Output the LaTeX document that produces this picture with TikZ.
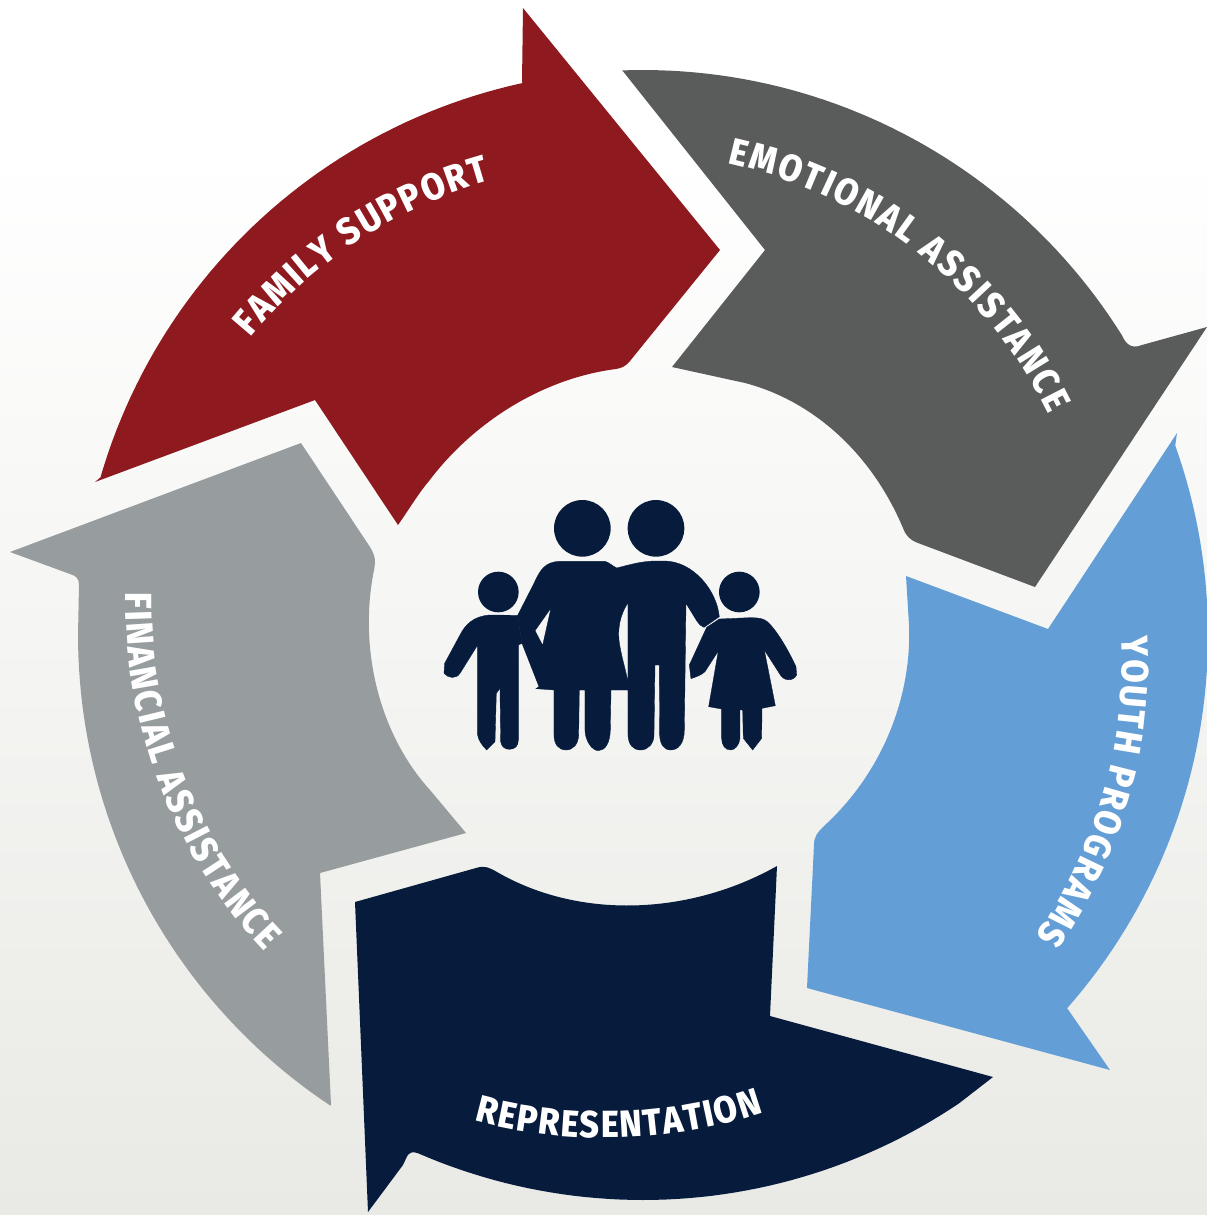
\documentclass[tikz,border=0pt]{standalone}
\usepackage{fontspec}
\usetikzlibrary{decorations.text}
\newfontfamily\lblfont[FakeStretch=0.9]{Fira Sans ExtraBold}
\definecolor{cred}{HTML}{8E191F}
\definecolor{cdark}{HTML}{5A5C5B}
\definecolor{cblue}{HTML}{639FD6}
\definecolor{cnavy}{HTML}{071C3C}
\definecolor{clight}{HTML}{979C9E}
\definecolor{cbgend}{HTML}{E9E9E5}
\tikzset{
  declare function={ox(\t)=643+565*cos(\t); oy(\t)=635+565*sin(\t);},
  icon/.style={fill=cnavy,draw=cnavy,line width=0.2pt},
}
% start angle, end angle, start radius, end radius, text
\newcommand{\curvedlabel}[5]{%
  \path[decorate,decoration={text along path,text color=white,text align={fit to path},
    text={|\lblfont\fontsize{21.5}{22}\selectfont|#5}}]
    plot[domain=0:1,samples=24]
    ({643+(#3+(#4-#3)*\x)*cos(#1+(#2-#1)*\x)},{635+(#3+(#4-#3)*\x)*sin(#1+(#2-#1)*\x)});}
\begin{document}
\begin{tikzpicture}[x=0.02cm,y=-0.02cm]
\clip (0,0) rectangle (1207,1215);
\fill[white] (0,0) rectangle (1207,151);
\shade[top color=white,bottom color=cbgend,draw=none] (0,150) rectangle (1207,1215);

% Family support
\fill[cred] (720,250) -- (523,8) -- (522,82)
  -- plot[domain=257.7:196.2,samples=50] ({ox(\x)},{oy(\x)})
  -- (95,482) -- (315,400) -- (398,525)
  .. controls (410,508) and (418,494) .. (429,481)
  .. controls (475,420) and (545,378) .. (616,369)
  .. controls (622,368) and (626,366) .. (630,361) -- cycle;

% Emotional assistance
\fill[cdark] (622,70) -- plot[domain=267.9:328,samples=50] ({ox(\x)},{oy(\x)})
  .. controls (1125,342) and (1130,350) .. (1142,345)
  -- (1207,327) -- (1035,587) -- (918,543)
  .. controls (910,540) and (906,536) .. (903,528)
  .. controls (870,450) and (810,400) .. (745,383)
  -- (672,367) -- (765,250) -- cycle;

% Youth programs
\fill[cblue] (1177,433) -- plot[domain=-19.6:41.3,samples=50] ({ox(\x)},{oy(\x)})
  -- (1067,1008) -- (1110,1070) -- (807,988) -- (814,845)
  .. controls (814,836) and (818,832) .. (824,826)
  .. controls (880,775) and (912,700) .. (909,625)
  -- (906,576) -- (1048,629) -- cycle;

% Representation
\fill[cnavy] (355,902) -- (476,868)
  .. controls (485,865) and (490,868) .. (497,872)
  .. controls (580,920) and (690,915) .. (777,866)
  -- (770,1016) -- (993,1077)
  -- plot[domain=56:113.5,samples=50] ({ox(\x)},{oy(\x)})
  .. controls (408,1150) and (408,1155) .. (403,1165)
  -- (368,1212) -- cycle;

% Financial assistance
\fill[clight] (10,552) -- (301,443) -- (370,547)
  .. controls (375,555) and (376,560) .. (374,570)
  .. controls (358,650) and (380,735) .. (430,790)
  -- (466,833) -- (320,873) -- (331,1105)
  -- plot[domain=123.6:180,samples=50] ({ox(\x)},{oy(\x)})
  -- (79,585) .. controls (79,578) and (76,576) .. (70,574) -- cycle;

% Labels
\curvedlabel{217.1}{251.4}{492.6}{479.5}{FAMILY SUPPORT}
\curvedlabel{280.2}{331.4}{479.6}{462}{EMOTIONAL ASSISTANCE}
\curvedlabel{0.2}{37.5}{479}{495}{YOUTH PROGRAMS}
\curvedlabel{109.1}{75.85}{514}{492.5}{REPRESENTATION}
\curvedlabel{184.7}{140.1}{519}{493}{FINANCIAL ASSISTANCE}

% Family icon (coordinates are three times finer)
\begin{scope}[shift={(430,490)},x=0.0066667cm,y=-0.0066667cm]
  \fill[cnavy] (457,115) circle[radius=0.5667cm];
  \fill[cnavy] (678,115) circle[radius=0.5667cm];
  \fill[cnavy] (205,306) circle[radius=0.4067cm];
  \fill[cnavy] (928,306) circle[radius=0.4067cm];
  % parents
  \path[icon,even odd rule]
    (263,376) -- (312,280) .. controls (330,240) and (345,215) .. (390,214)
    -- (525,214) .. controls (535,216) and (548,228) .. (560,234)
    .. controls (600,224) and (635,213) .. (680,213)
    -- (705,213) .. controls (790,215) and (860,300) .. (868,380)
    -- (822,412) .. controls (812,410) and (808,402) .. (800,392)
    -- (768,340) -- (763,720)
    .. controls (763,760) and (745,780) .. (722,780)
    .. controls (700,780) and (690,760) .. (689,735)
    -- (688,525) -- (675,525) -- (672,735)
    .. controls (672,760) and (655,780) .. (632,780)
    .. controls (610,780) and (595,765) .. (594,735)
    -- (594,600) -- (543,600) -- (541,720)
    .. controls (540,760) and (525,782) .. (505,782)
    .. controls (485,782) and (465,750) .. (465,720)
    -- (465,600) -- (448,600) -- (446,735)
    .. controls (445,762) and (430,780) .. (408,780)
    .. controls (385,780) and (372,762) .. (372,735)
    -- (372,600) -- (318,596) -- (327,590) -- (276,460) -- cycle
    (363,354) -- (315,422) -- (338,466) -- cycle
    (594,338) .. controls (570,375) and (560,420) .. (570,470)
    .. controls (577,510) and (590,550) .. (594,578) -- cycle;
  % boy
  \path[icon] (263,376) -- (180,375)
    .. controls (130,378) and (105,405) .. (90,435)
    -- (44,520) -- (42,550) .. controls (55,565) and (78,568) .. (90,550)
    -- (143,465) -- (143,735) .. controls (145,750) and (155,765) .. (170,780)
    -- (195,755) -- (199,610) -- (210,595) -- (212,755)
    .. controls (214,770) and (225,778) .. (238,778)
    .. controls (255,778) and (265,768) .. (265,750)
    -- (265,465) -- (276,460) -- cycle;
  % girl
  \path[icon] (868,387) -- (960,383)
    .. controls (985,383) and (1000,385) .. (1012,395)
    .. controls (1040,420) and (1075,480) .. (1098,530)
    -- (1100,555) .. controls (1090,575) and (1060,575) .. (1048,550)
    -- (1003,480) -- (1036,647) -- (996,655) -- (995,745)
    -- (968,780) -- (940,745) -- (938,660) -- (930,660) -- (930,745)
    .. controls (928,765) and (915,780) .. (902,780)
    .. controls (885,780) and (875,765) .. (875,745)
    -- (875,657) -- (836,650) -- (865,483) -- (825,545)
    .. controls (815,555) and (800,560) .. (783,566)
    -- (778,525) -- (830,412) -- cycle;
\end{scope}
\end{tikzpicture}
\end{document}
